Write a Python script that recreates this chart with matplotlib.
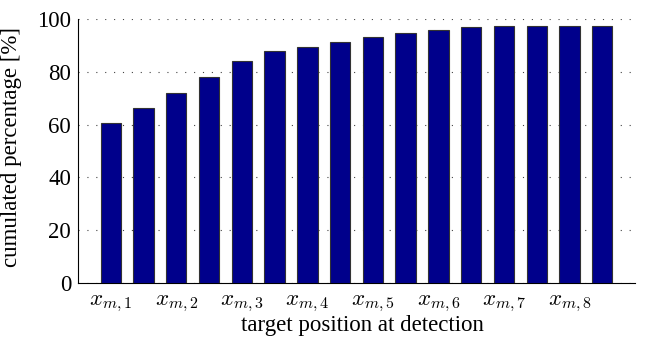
import numpy as np
import matplotlib
matplotlib.use("Agg")
import matplotlib.pyplot as plt

# cumulated percentage per bar
positions = np.arange(1, 17)
values = [60.5, 66.2, 71.8, 78.0, 84.0, 87.8, 89.3, 91.2,
          93.1, 94.6, 95.7, 97.0, 97.3, 97.5, 97.5, 97.5]
tick_pos = [1, 3, 5, 7, 9, 11, 13, 15]
tick_labels = [r"$x_{m,%d}$" % i for i in range(1, 9)]

plt.rcParams["font.family"] = "serif"
plt.rcParams["font.serif"] = ["Liberation Serif"]
plt.rcParams["mathtext.fontset"] = "cm"

fig = plt.figure(figsize=(6.46, 3.41), dpi=100)
ax = fig.add_axes([78 / 646, 1 - 283 / 341, (635 - 78) / 646, (283 - 19) / 341])

ax.bar(positions, values, width=0.62, color="#00008B", edgecolor="#333333", linewidth=0.8, zorder=3)

ax.set_xlim(0, 17)
ax.set_ylim(0, 100)
ax.set_yticks([0, 20, 40, 60, 80, 100])
ax.set_xticks(tick_pos)
ax.set_xticklabels(tick_labels, fontsize=17)
ax.tick_params(axis="both", length=0, labelsize=16.5)
ax.tick_params(axis="y", pad=5)
ax.tick_params(axis="x", pad=7)
ax.yaxis.grid(True, linestyle=(0, (1, 7)), color="#444444", linewidth=0.8, zorder=0)

ax.spines["top"].set_visible(False)
ax.spines["right"].set_visible(False)

ax.set_xlabel("target position at detection", fontsize=16.5)
ax.xaxis.set_label_coords(0.51, -0.12)
ax.set_ylabel("cumulated percentage [%]", fontsize=16.5)
ax.yaxis.set_label_coords(-0.1, 0.515)

fig.savefig("out.png", dpi=100)
